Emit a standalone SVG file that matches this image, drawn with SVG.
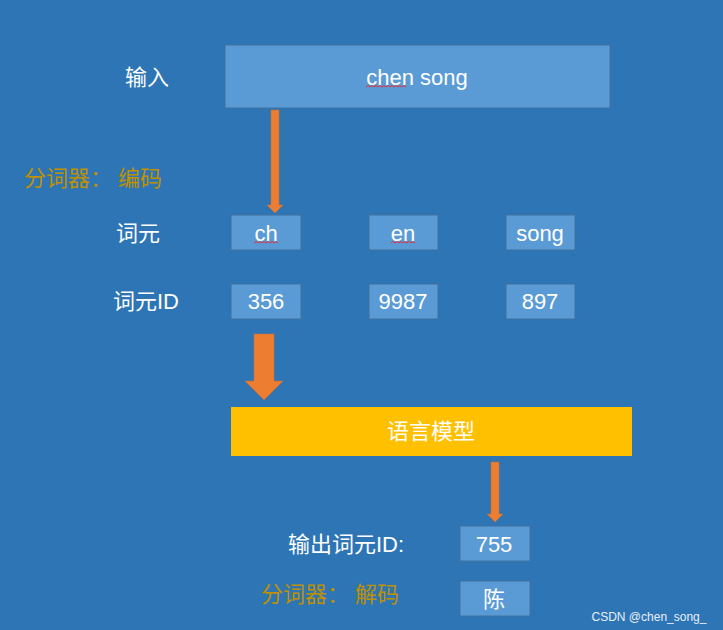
<svg xmlns="http://www.w3.org/2000/svg" width="723" height="630" viewBox="0 0 723 630">
<defs>
<style>
.box{fill:#5B9BD5;stroke:#41719C;stroke-width:1}
.t{font-family:"Liberation Sans","Noto Sans CJK SC",sans-serif;font-size:22px;fill:#FFFFFF;text-anchor:middle;dominant-baseline:central}
.g{fill:#BF9000;text-anchor:start}
.arr{fill:#ED7D31;stroke:#D06A28;stroke-width:0.5}
.sq{fill:none;stroke:#E0303A;stroke-width:1}
</style>
</defs>
<rect x="0" y="0" width="723" height="630" fill="#2E75B6"/>
<g id="labels">
<text class="t" x="147" y="77">输入</text>
<text class="t g" x="24" y="178" xml:space="preserve">分词器： 编码</text>
<text class="t" x="138" y="233">词元</text>
<text class="t" x="146" y="301">词元ID</text>
<text class="t" x="346" y="544">输出词元ID:</text>
<text class="t g" x="261" y="594" xml:space="preserve">分词器： 解码</text>
<text x="649" y="617" style="font-family:'Liberation Sans',sans-serif;font-size:12px;fill:#E8EEF5;text-anchor:middle;dominant-baseline:central">CSDN @chen_song_</text>
</g>
<g id="input">
<rect class="box" x="225" y="45" width="385" height="63"/>
<text class="t" x="417" y="77">chen song</text>
<path class="sq" d="M366 87 l2 -1.5 l2 1.5 l2 -1.5 l2 1.5 l2 -1.5 l2 1.5 l2 -1.5 l2 1.5 l2 -1.5 l2 1.5 l2 -1.5 l2 1.5 l2 -1.5 l2 1.5 l2 -1.5 l2 1.5 l2 -1.5 l2 1.5 l2 -1.5 l2 1.5"/>
</g>
<g id="tok-ch">
<rect class="box" x="231" y="215" width="70" height="35"/>
<text class="t" x="266" y="233">ch</text>
<path class="sq" d="M254 243 l2 -1.5 l2 1.5 l2 -1.5 l2 1.5 l2 -1.5 l2 1.5 l2 -1.5 l2 1.5 l2 -1.5 l2 1.5 l2 -1.5 l2 1.5"/>
</g>
<g id="tok-en">
<rect class="box" x="369" y="215" width="69" height="35"/>
<text class="t" x="403" y="233">en</text>
<path class="sq" d="M391 243 l2 -1.5 l2 1.5 l2 -1.5 l2 1.5 l2 -1.5 l2 1.5 l2 -1.5 l2 1.5 l2 -1.5 l2 1.5 l2 -1.5 l2 1.5"/>
</g>
<g id="tok-song">
<rect class="box" x="506" y="215" width="69" height="35"/>
<text class="t" x="540" y="233">song</text>
</g>
<g id="id-356">
<rect class="box" x="231" y="284" width="70" height="35"/>
<text class="t" x="266" y="301">356</text>
</g>
<g id="id-9987">
<rect class="box" x="369" y="284" width="69" height="35"/>
<text class="t" x="403" y="301">9987</text>
</g>
<g id="id-897">
<rect class="box" x="506" y="284" width="69" height="35"/>
<text class="t" x="540" y="301">897</text>
</g>
<g id="lm">
<rect x="231" y="407" width="401" height="49" fill="#FFC000"/>
<text class="t" x="431" y="431">语言模型</text>
</g>
<g id="out-755">
<rect class="box" x="460" y="526" width="70" height="35"/>
<text class="t" x="494" y="544">755</text>
</g>
<g id="out-chen">
<rect class="box" x="460" y="581" width="70" height="35"/>
<text class="t" x="494" y="599">陈</text>
</g>
<g id="connectors">
<path class="arr" d="M271 110 H279 V205 H283 L275 213 L267 205 H271 Z"/>
<path class="arr" d="M254 334 H274 V381 H283 L264 400 L245 381 H254 Z"/>
<path class="arr" d="M491 462 H499 V514 H503 L495 522 L487 514 H491 Z"/>
</g>
</svg>
